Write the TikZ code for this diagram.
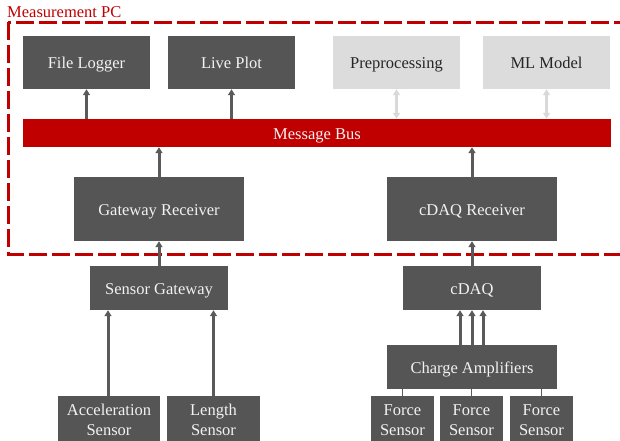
\documentclass[tikz,border=0pt]{standalone}
\usepackage{fontspec}
\setmainfont{Liberation Serif}
\newfontfamily\tnr{Liberation Serif}
\usetikzlibrary{arrows.meta}
\definecolor{dbox}{HTML}{555555}
\definecolor{lbox}{HTML}{DCDCDC}
\definecolor{darr}{HTML}{5A5A5A}
\definecolor{larr}{HTML}{D9D9D9}
\definecolor{bred}{HTML}{C00000}
\definecolor{dtext}{HTML}{F2F2F2}
\tikzset{
  txt/.style={font=\tnr\fontsize{16.5}{20}\selectfont},
  one/.style={text height=15pt, text depth=3pt},
  dark/.style={rectangle, fill=dbox, text=dtext, inner sep=0pt, align=center, txt},
  light/.style={rectangle, fill=lbox, text=black!85, inner sep=0pt, align=center, txt},
  arr/.style={draw=darr, line width=3pt, -{Triangle[length=6pt,width=7pt]}},
  larrow/.style={draw=larr, line width=3pt, {Triangle[length=6pt,width=7pt]}-{Triangle[length=6pt,width=7pt]}},
  thinline/.style={draw=darr, line width=1.6pt},
}
\begin{document}
\begin{tikzpicture}[x=1pt,y=-1pt]
\useasboundingbox (0,0) rectangle (620,440);
\clip (0,0) rectangle (620,440);
% frame
\draw[bred, line width=3pt, dash pattern=on 18pt off 5pt] (8,22) rectangle (640,254);
\node[anchor=base west, text=bred, inner sep=0pt, txt] (title) at (7,17.5) {Measurement PC};
% top row
\node[dark, one, minimum width=127, minimum height=53] (fl) at (86.5,62.5) {File Logger};
\node[dark, one, minimum width=127, minimum height=53] (lp) at (231.5,62.5) {Live Plot};
\node[light, one, minimum width=127, minimum height=53] (pre) at (396.5,62.5) {Preprocessing};
\node[light, one, minimum width=127, minimum height=53] (ml) at (546.5,62.5) {ML Model};
% bus
\node[rectangle, fill=bred, text=dtext, inner sep=0pt, one, minimum width=588, minimum height=28, txt] (bus) at (317,133) {Message Bus};
% receivers
\node[dark, one, minimum width=170, minimum height=64] (gr) at (159,209) {Gateway Receiver};
\node[dark, one, minimum width=170, minimum height=64] (cr) at (472,209) {cDAQ Receiver};
% gateway / cdaq
\node[dark, one, minimum width=138, minimum height=44] (sg) at (159,288) {Sensor Gateway};
\node[dark, one, minimum width=138, minimum height=44] (cdaq) at (472,288) {cDAQ};
\node[dark, one, minimum width=170, minimum height=44] (ca) at (472,367) {Charge Amplifiers};
% sensors
\node[dark, minimum width=102, minimum height=48] (acc) at (109,420) {Acceleration\\Sensor};
\node[dark, minimum width=93, minimum height=48] (len) at (213.5,420) {Length\\Sensor};
\node[dark, minimum width=63, minimum height=48] (f1) at (402.5,420) {Force\\Sensor};
\node[dark, minimum width=63, minimum height=48] (f2) at (471.5,420) {Force\\Sensor};
\node[dark, minimum width=63, minimum height=48] (f3) at (541.5,420) {Force\\Sensor};
% arrows bus -> consumers
\draw[arr] (bus.north -| fl.south) -- (fl.south);
\draw[arr] (bus.north -| lp.south) -- (lp.south);
\draw[larrow] (bus.north -| pre.south) -- (pre.south);
\draw[larrow] (bus.north -| ml.south) -- (ml.south);
% receivers -> bus
\draw[arr] (gr.north) -- (gr.north |- bus.south);
\draw[arr] (cr.north) -- (cr.north |- bus.south);
% gateway -> receiver
\draw[arr] (sg.north) -- (gr.south);
\draw[arr] (cdaq.north) -- (cr.south);
% sensors -> gateway
\draw[arr] ([xshift=-1pt]acc.north) -- ([xshift=-1pt]acc.north |- sg.south);
\draw[arr] (len.north) -- (len.north |- sg.south);
% charge amps -> cdaq
\draw[arr] ([xshift=-12pt]ca.north) -- ([xshift=-12pt]ca.north |- cdaq.south);
\draw[arr] (ca.north) -- (cdaq.south);
\draw[arr] ([xshift=11pt]ca.north) -- ([xshift=11pt]ca.north |- cdaq.south);
% force sensors -> charge amps
\draw[thinline] (f1.north) -- (f1.north |- ca.south);
\draw[thinline] (f2.north) -- (f2.north |- ca.south);
\draw[thinline] (f3.north) -- (f3.north |- ca.south);
\end{tikzpicture}
\end{document}
